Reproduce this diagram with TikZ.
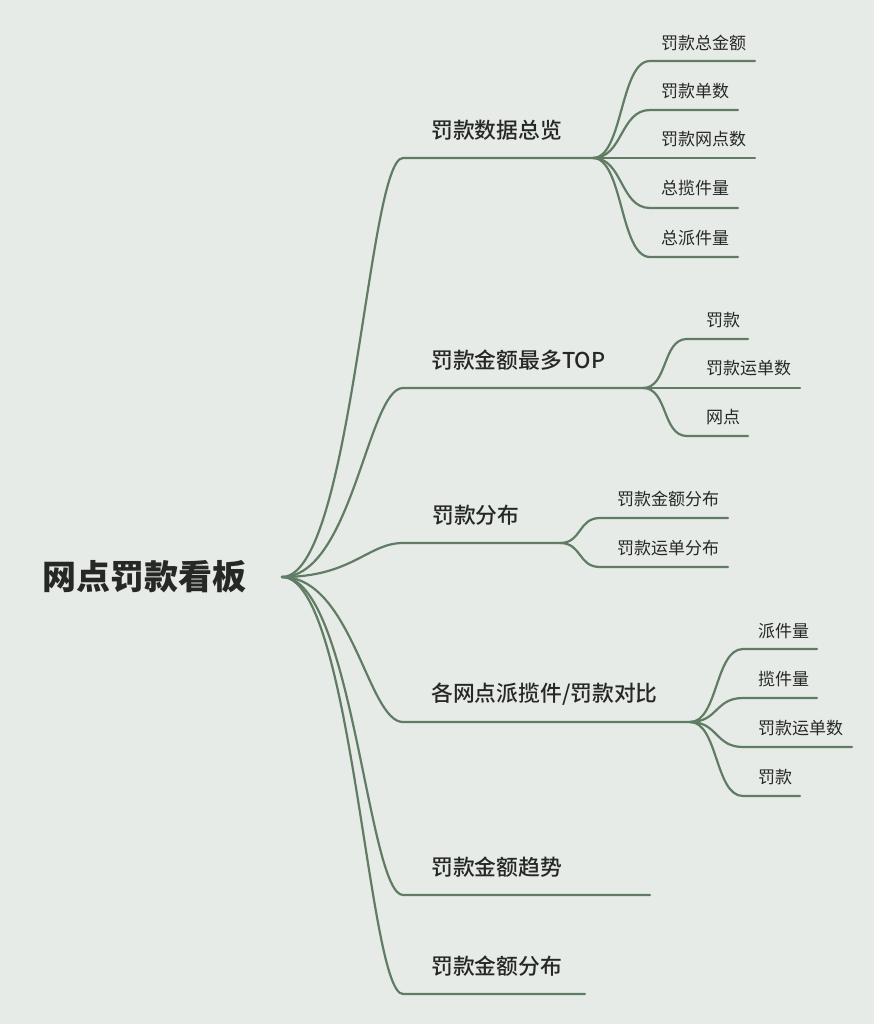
\documentclass[tikz,border=0pt]{standalone}
\usepackage{fontspec}
\setmainfont{Noto Sans CJK SC}
\newfontfamily\mediumfont{Noto Sans CJK SC Medium}
\RequirePackage{xcolor}
\definecolor{boardbg}{RGB}{231,235,231}
\definecolor{branchgreen}{RGB}{96,124,100}
\definecolor{labelgrey}{RGB}{38,40,38}
\usetikzlibrary{calc}
\usetikzlibrary{positioning}

\tikzset{
  rootlabel/.style={anchor=east, inner xsep=35pt, inner ysep=0pt, text=labelgrey, font=\fontsize{34}{40}\selectfont\bfseries},
  mainlabel/.style={anchor=west, inner sep=0pt, text=labelgrey, font=\fontsize{21.8}{26}\selectfont\mediumfont},
  leaflabel/.style={anchor=west, inner sep=0pt, text=labelgrey, font=\fontsize{17}{20}\selectfont},
  branch/.style={draw=branchgreen, line width=2.2pt, line cap=round}
}

\begin{document}
\begin{tikzpicture}[x=1pt, y=-1pt]
  \fill [boardbg] (0,0) rectangle (874,1024);
  \useasboundingbox (0,0) rectangle (874,1024);

  \node [rootlabel] (root) at (282,577) {网点罚款看板};

  % main branches: start / fan point
  \coordinate (overview) at (403,158);   \coordinate (overviewfan) at (593,158);
  \coordinate (top) at (403,388);        \coordinate (topfan) at (643,388);
  \coordinate (dist) at (403,543);       \coordinate (distfan) at (560,543);
  \coordinate (compare) at (403,722);    \coordinate (comparefan) at (690,722);
  \coordinate (trend) at (403,895);      \coordinate (trendend) at (650,895);
  \coordinate (amount) at (403,994);     \coordinate (amountend) at (585,994);

  \node [mainlabel] (overviewtxt) at (431,130) {罚款数据总览};
  \node [mainlabel] (toptxt) at (431,360) {罚款金额最多TOP};
  \node [mainlabel] (disttxt) at (432,515) {罚款分布};
  \node [mainlabel] (comparetxt) at (431,694) {各网点派揽件/罚款对比};
  \node [mainlabel] (trendtxt) at (431,867) {罚款金额趋势};
  \node [mainlabel] (amounttxt) at (431,966) {罚款金额分布};

  \foreach \b/\e in {overview/overviewfan, top/topfan, dist/distfan, compare/comparefan, trend/trendend, amount/amountend}
    \draw [branch] (root.east) .. controls +(70,0) and +(-35,0) .. (\b) -- (\e);

  % overview leaves
  \coordinate (ov1) at (650,61);   \coordinate (ov1e) at (755,61);
  \coordinate (ov2) at (650,110);  \coordinate (ov2e) at (738,110);
  \coordinate (ov3) at (650,158);  \coordinate (ov3e) at (755,158);
  \coordinate (ov4) at (650,208);  \coordinate (ov4e) at (738,208);
  \coordinate (ov5) at (650,257);  \coordinate (ov5e) at (738,257);
  \node [leaflabel] (ov1txt) at (661,43) {罚款总金额};
  \node [leaflabel] (ov2txt) at (661,91) {罚款单数};
  \node [leaflabel] (ov3txt) at (661,139) {罚款网点数};
  \node [leaflabel] (ov4txt) at (661,188) {总揽件量};
  \node [leaflabel] (ov5txt) at (661,238) {总派件量};
  \foreach \l in {ov1, ov2, ov3, ov4, ov5}
    \draw [branch] (overviewfan) .. controls +(30,0) and +(-30,0) .. (\l) -- (\l e);

  % top leaves
  \coordinate (tp1) at (687,339);  \coordinate (tp1e) at (748,339);
  \coordinate (tp2) at (687,388);  \coordinate (tp2e) at (800,388);
  \coordinate (tp3) at (687,436);  \coordinate (tp3e) at (748,436);
  \node [leaflabel] (tp1txt) at (706,320) {罚款};
  \node [leaflabel] (tp2txt) at (706,368) {罚款运单数};
  \node [leaflabel] (tp3txt) at (706,417) {网点};
  \foreach \l in {tp1, tp2, tp3}
    \draw [branch] (topfan) .. controls +(25,0) and +(-25,0) .. (\l) -- (\l e);

  % distribution leaves
  \coordinate (ds1) at (600,518);  \coordinate (ds1e) at (728,518);
  \coordinate (ds2) at (600,567);  \coordinate (ds2e) at (728,567);
  \node [leaflabel] (ds1txt) at (617,499) {罚款金额分布};
  \node [leaflabel] (ds2txt) at (617,548) {罚款运单分布};
  \foreach \l in {ds1, ds2}
    \draw [branch] (distfan) .. controls +(22,0) and +(-22,0) .. (\l) -- (\l e);

  % compare leaves
  \coordinate (cp1) at (743,649);  \coordinate (cp1e) at (817,649);
  \coordinate (cp2) at (743,698);  \coordinate (cp2e) at (817,698);
  \coordinate (cp3) at (743,747);  \coordinate (cp3e) at (852,747);
  \coordinate (cp4) at (743,796);  \coordinate (cp4e) at (800,796);
  \node [leaflabel] (cp1txt) at (758,631) {派件量};
  \node [leaflabel] (cp2txt) at (758,679) {揽件量};
  \node [leaflabel] (cp3txt) at (758,728) {罚款运单数};
  \node [leaflabel] (cp4txt) at (758,777) {罚款};
  \foreach \l in {cp1, cp2, cp3, cp4}
    \draw [branch] (comparefan) .. controls +(28,0) and +(-28,0) .. (\l) -- (\l e);
\end{tikzpicture}
\end{document}
